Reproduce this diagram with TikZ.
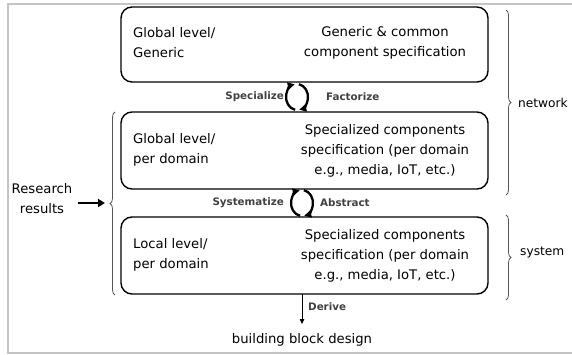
\documentclass[tikz,border=0pt]{standalone}
\usepackage{fontspec}
\setmainfont{DejaVu Sans}
\usetikzlibrary{arrows.meta,decorations.pathreplacing}
\definecolor{framegray}{HTML}{C4C4C4}
\definecolor{labelgray}{HTML}{404040}
\definecolor{bracegray}{HTML}{555555}
\tikzset{
  levelbox/.style={draw=black, line width=1.4pt, rounded corners=11pt},
  boxtext/.style={font=\fontsize{13.2}{20}\selectfont, align=center, inner sep=0pt},
  lefttext/.style={boxtext, align=left, anchor=west},
  actlabel/.style={font=\fontsize{10.3}{12}\selectfont\bfseries, text=labelgray, inner sep=0pt},
  cyclearc/.style={line width=2.3pt, -{Triangle[length=7pt,width=7pt]}},
  sidebrace/.style={draw=bracegray, line width=0.8pt, decorate, decoration={brace, amplitude=5pt}},
  sidetext/.style={font=\fontsize{13.2}{20}\selectfont, inner sep=0pt},
  scopetext/.style={font=\fontsize{12.2}{16}\selectfont, inner sep=0pt, anchor=west},
}
\begin{document}
\begin{tikzpicture}[x=1pt, y=-1pt]
  \useasboundingbox (0,0) rectangle (572,355);
  % page frame
  \draw[framegray, line width=1.6pt] (572,4) -- (8,4) -- (8,353) -- (572,353);

  % the three levels
  \draw[levelbox] (121,7) rectangle (488,82);
  \draw[levelbox] (121,112) rectangle (488,189);
  \draw[levelbox] (121,217) rectangle (488,294);

  \node[lefttext] (topL) at (133,43) {Global level/\\Generic};
  \node[boxtext] (topR) at (385,43) {Generic \& common\\component specification};
  \node[lefttext] (midL) at (133,150) {Global level/\\per domain};
  \node[boxtext] (midR) at (385,151) {Specialized components\\specification (per domain\\e.g., media, IoT, etc.)};
  \node[lefttext] (lowL) at (133,255) {Local level/\\per domain};
  \node[boxtext] (lowR) at (385,256) {Specialized components\\specification (per domain\\e.g., media, IoT, etc.)};

  % cycle between the top and middle levels
  \coordinate (c1) at (297,97);
  \draw[cyclearc] ([shift={(100:11 and 13)}]c1) arc[start angle=100, end angle=258, x radius=11, y radius=13];
  \draw[cyclearc] ([shift={(280:11 and 13)}]c1) arc[start angle=280, end angle=438, x radius=11, y radius=13];
  \node[actlabel, anchor=east] (spec) at (284,97) {Specialize};
  \node[actlabel, anchor=west] (fact) at (326,97) {Factorize};

  % cycle between the middle and low levels
  \coordinate (c2) at (302,203);
  \draw[cyclearc] ([shift={(100:11 and 13)}]c2) arc[start angle=100, end angle=258, x radius=11, y radius=13];
  \draw[cyclearc] ([shift={(280:11 and 13)}]c2) arc[start angle=280, end angle=438, x radius=11, y radius=13];
  \node[actlabel, anchor=east] (syst) at (284,203) {Systematize};
  \node[actlabel, anchor=west] (abst) at (320,203) {Abstract};

  % derivation of the building block design
  \node[sidetext] (bbd) at (302,340) {building block design};
  \coordinate (derfrom) at (302,294);
  \coordinate (derto) at (302,324);
  \draw[line width=0.8pt, -{Triangle[length=5pt,width=4.5pt]}] (derfrom) -- (derto);
  \node[actlabel, anchor=west] (der) at (308,307) {Derive};

  % research input on the left
  \node[sidetext, align=center] (res) at (42,199) {Research\\results};
  \draw[sidebrace] (115,295) -- (115,112);
  \coordinate (restip) at (105,203);
  \draw[line width=2.6pt, -{Triangle[length=7pt,width=8pt]}] (78,203) -- (restip);

  % scope braces on the right
  \draw[sidebrace] (506,10) -- (506,195);
  \node[scopetext] (net) at (518,103) {network};
  \draw[sidebrace] (506,215) -- (506,300);
  \node[scopetext] (sys) at (520,252) {system};
\end{tikzpicture}
\end{document}
